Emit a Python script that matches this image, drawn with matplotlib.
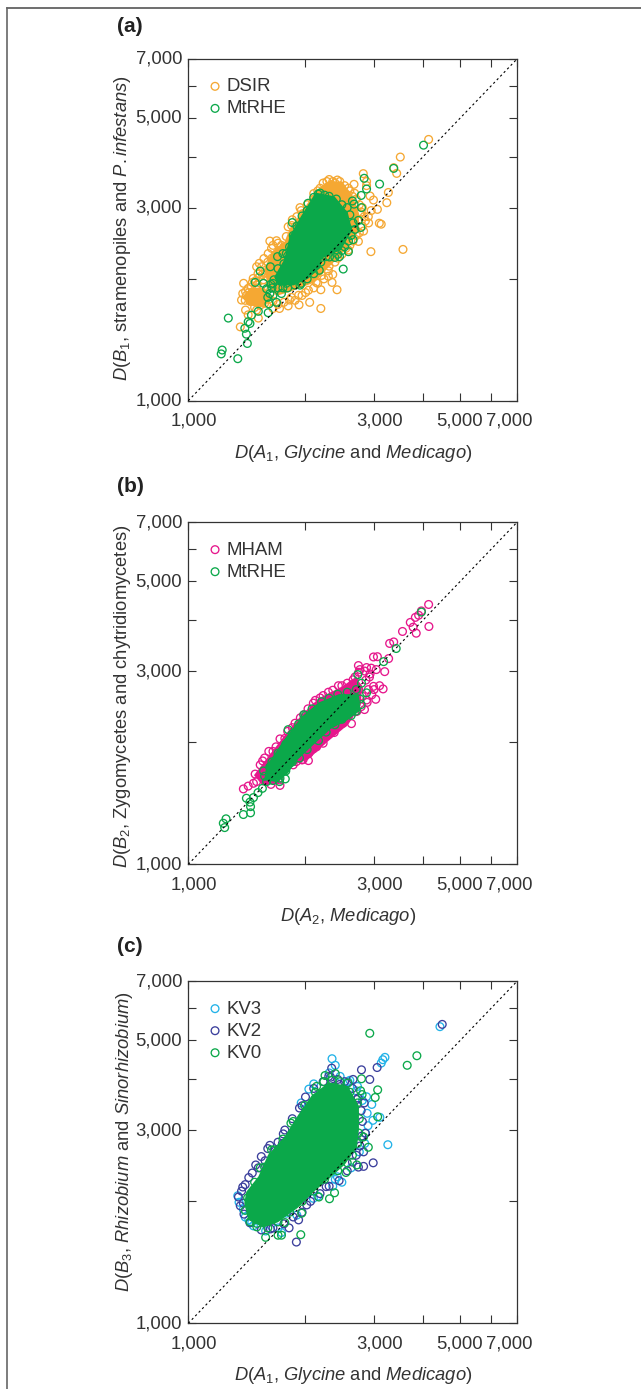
import matplotlib
matplotlib.use("Agg")
import matplotlib.pyplot as plt
from matplotlib.lines import Line2D
from matplotlib.transforms import ScaledTranslation

plt.rcParams["font.family"] = "Liberation Sans"
plt.rcParams["mathtext.fontset"] = "custom"
plt.rcParams["mathtext.rm"] = "Liberation Sans"
plt.rcParams["mathtext.it"] = "Liberation Sans:italic"

ticks = [1000, 2000, 3000, 4000, 5000, 6000, 7000]
tick_labels = ["1,000", "", "3,000", "", "5,000", "", "7,000"]

ORANGE = "#F5A833"
GREEN = "#0BA84A"
PINK = "#E6178C"
CYAN = "#22B2E8"
NAVY = "#3B3F9C"

# panel a, single readable circles
dsir_x = [4143, 3504, 3370, 3430, 3265, 3235, 3060, 3095, 3130, 3560, 2945, 2815, 2870, 2930, 2735,
          1370, 1380, 1387, 1403, 1425, 1453, 1468, 1498, 1522, 1564, 1543, 1604, 1620, 1636, 1685,
          1735, 1785, 1805, 1843, 1936, 1968, 2095, 2180, 2270, 2330, 2415, 2478, 2578, 2665, 2675,
          2870, 2990, 2780, 2905, 2820, 2578, 2095, 2290, 2340, 2410, 2190, 2035, 1920, 1820, 1925,
          2050, 2190, 1715, 1805, 1650, 1513, 1425, 1403, 1360, 1498, 1440, 1485, 1530, 1575, 1498,
          1560, 1620, 1670,
          1600, 1640, 1680, 1720, 1650, 1700, 1760, 1580, 1550, 1520, 1490, 1510, 1560, 1600, 1640,
          1500, 1460, 1430, 1410, 1400, 1440, 1480, 1530, 1570, 1610, 1650, 1700, 1760, 1840, 1880,
          1960, 2000, 2100, 2150, 2230, 2290, 2200, 2130, 2350, 1850, 1900, 1950, 2020, 2100, 2150,
          2220, 2300, 2350, 2380, 2450, 2520, 2600, 2640, 2700, 2750, 2800, 2760, 2830, 2850, 2800,
          2750, 2700, 2650, 2600, 2540, 2480, 2420, 2380, 2300, 2900, 2950]
dsir_y = [4422, 4000, 3765, 3645, 3270, 3085, 2970, 2745, 2730, 2365, 2335, 3640, 3480, 3205, 2475,
          1773, 1840, 1950, 1860, 1895, 1912, 2005, 2143, 2185, 2245, 2143, 2310, 2480, 2380, 2485,
          2420, 2545, 2690, 2710, 3000, 2900, 3145, 3350, 3480, 3415, 3510, 3350, 3350, 3425, 3255,
          3400, 3132, 2925, 2750, 2625, 2357, 2060, 2095, 1960, 1880, 1880, 1875, 1822, 1773, 1725,
          1750, 1690, 1690, 1715, 1690, 1600, 1630, 1675, 1522, 1675, 1800, 1753, 1840, 1785, 1880,
          1905, 1840, 1912,
          2200, 2250, 2300, 2350, 2420, 2450, 2400, 2100, 2050, 2020, 1980, 2060, 1990, 2020, 2080,
          1930, 1960, 1850, 1820, 1770, 1760, 1700, 1720, 1740, 1780, 1760, 1730, 1750, 1800, 1770,
          1820, 1850, 1900, 1950, 2000, 2030, 2040, 1960, 2050, 2800, 2850, 2950, 3050, 3250, 3300,
          3450, 3520, 3480, 3450, 3480, 3400, 3300, 3200, 3150, 3050, 3000, 2900, 2850, 2780, 2700,
          2600, 2560, 2480, 2420, 2380, 2300, 2250, 2200, 2150, 2850, 2950]
mtrhe_a_x = [4020, 3370, 3100, 2870, 2830, 2780, 2785, 2640, 2665, 2775, 2735, 2650, 2500, 2578, 2445,
             2305, 1850, 2030, 2155, 1695, 1625, 1530, 1485, 1560, 1630, 1620, 1589, 1650, 1612, 1685,
             1604, 1513, 1453, 1267, 1425, 1440, 1397, 1410, 1418, 1340, 1222, 1215, 1936, 1785, 1735,
             1650, 1765, 1785, 1750,
             1700, 1760, 1800, 1820, 1860, 1900, 1960, 2020, 2100, 2180, 2240, 2300, 2400, 2480, 2560,
             2600, 2650, 2680, 2620, 2580, 2520, 2480, 2420, 2380, 2260, 2200, 2190, 2170, 2100, 2020,
             1950, 1880, 1800, 1750, 1700, 1660, 1640, 1600]
mtrhe_a_y = [4280, 3750, 3430, 3335, 3545, 3215, 3000, 3115, 3060, 2680, 2790, 2500, 2115, 2335, 2270,
             2265, 2755, 3075, 3240, 2270, 2143, 2090, 1960, 1950, 1940, 1840, 1890, 1820, 1735, 1750,
             1650, 1663, 1627, 1600, 1567, 1552, 1510, 1460, 1385, 1270, 1334, 1305, 1930, 1950, 1840,
             1950, 2105, 2310, 2310,
             2120, 2180, 2280, 2400, 2560, 2700, 2860, 2950, 3180, 3260, 3220, 3200, 3150, 3050, 3000,
             2880, 2750, 2650, 2560, 2480, 2400, 2350, 2300, 2260, 2270, 2260, 2200, 2100, 2060, 2000,
             1950, 1930, 1900, 1900, 1900, 1990, 1900, 1800]
# saturated regions where the circles merge, outlines only
dsir_core_x = [1620, 1589, 1650, 1785, 1843, 1973, 2136, 2270, 2460, 2602, 2710, 2710, 2445, 2260, 2095, 1820, 1690]
dsir_core_y = [1950, 2103, 2310, 2450, 2650, 2900, 3252, 3425, 3444, 3220, 2900, 2640, 2310, 2143, 1980, 1880, 1840]
dsir_blob_x = [1397, 1453, 1560, 1604, 1560, 1440]
dsir_blob_y = [1800, 1880, 1880, 1800, 1720, 1740]
mtrhe_a_core_x = [1685, 1785, 1843, 1973, 2136, 2358, 2540, 2602, 2445, 2180, 2160, 2015, 1860, 1715]
mtrhe_a_core_y = [2020, 2225, 2545, 2849, 3225, 3165, 2900, 2640, 2380, 2265, 2143, 2020, 1950, 1950]

# panel b
mham_x = [4143, 3970, 3905, 3830, 3717, 3780, 3850, 4150, 3550, 3290, 3370, 3270, 2990, 3060, 2735,
          3195, 3165, 3100, 3030, 3040, 2930, 2835, 2625, 2370, 2220, 2035, 1895, 1720, 1385, 1425,
          1470, 1552, 1485, 1650, 1770, 1850, 1980, 2095, 2180, 2290, 2480, 2650, 2760, 2870, 2990,
          2870, 2710, 2500, 2330, 2136, 1973, 1820, 1715, 1630, 1498, 1589, 1715,
          1530, 1570, 1610, 1680, 1720, 1800, 1880, 1940, 2030, 2120, 2220, 2350, 2430, 2560, 2680,
          2740, 2840, 2950, 1600, 1660, 1740, 1800, 1860, 1960, 2040, 2100, 2200, 2290, 2400, 2480,
          2580, 2680, 2780, 2880, 2960, 3000, 2900, 2800, 2860, 2920, 2740]
mham_y = [4380, 4222, 4120, 4070, 3955, 3850, 3720, 3865, 3757, 3510, 3540, 3220, 3250, 3255, 3095,
          2990, 2710, 2760, 2555, 3025, 2950, 2410, 2225, 2115, 1990, 1803, 1793, 1566, 1535, 1560,
          1585, 1800, 1670, 1900, 2045, 2175, 2340, 2500, 2575, 2660, 2760, 2855, 3025, 3060, 2750,
          2545, 2385, 2230, 2150, 1950, 1815, 1775, 1615, 1575, 1600, 1710, 1850,
          1760, 1830, 1900, 1950, 2040, 2130, 2230, 2300, 2420, 2540, 2610, 2690, 2760, 2800, 2900,
          2980, 3000, 3050, 1620, 1680, 1720, 1760, 1760, 1810, 1880, 1930, 2020, 2110, 2190, 2240,
          2330, 2380, 2450, 2510, 2620, 2700, 2700, 2600, 2850, 2900, 2700]
mtrhe_b_x = [3970, 3420, 3175, 2725, 2785, 2870, 1980, 1805, 1775, 1550, 1510, 1470, 1410, 1440, 1445,
             1445, 1385, 1250, 1230, 1240, 1650, 1715, 1620, 1589,
             1640, 1700, 1780, 1850, 1920, 2000, 2080, 2200, 2300, 2420, 2560, 2700, 2760, 2780, 2700,
             2620, 2480, 2380, 2260, 2160, 2020, 1930, 1850, 1780, 1720, 1650, 1570, 1560]
mtrhe_b_y = [4195, 3410, 3165, 2940, 2800, 2650, 2340, 2150, 1625, 1540, 1503, 1461, 1456, 1424, 1388,
             1340, 1327, 1295, 1263, 1232, 1680, 1600, 1740, 1600,
             1790, 1880, 1980, 2100, 2220, 2330, 2420, 2520, 2570, 2630, 2660, 2700, 2560, 2480, 2390,
             2330, 2280, 2210, 2120, 2020, 1920, 1830, 1790, 1700, 1630, 1610, 1650, 1700]
mham_core_x = [1498, 1620, 1785, 1973, 2180, 2500, 2680, 2760, 2740, 2550, 2260, 2015, 1785, 1690, 1560]
mham_core_y = [1660, 1830, 2065, 2320, 2545, 2720, 2850, 2750, 2480, 2230, 2025, 1830, 1760, 1600, 1585]
mtrhe_b_core_x = [1604, 1785, 1973, 2180, 2445, 2710, 2735, 2550, 2305, 2050, 1895, 1785, 1690, 1589]
mtrhe_b_core_y = [1740, 2025, 2295, 2485, 2600, 2600, 2410, 2295, 2180, 1965, 1830, 1690, 1615, 1630]

# panel c
kv3_x = [4430, 3200, 3160, 3130, 2340, 2385, 2040, 2960, 2980, 3105, 3255, 2895, 2415, 2385, 1340,
         1385, 1430, 1455, 2095, 1785, 1735, 2840, 2455, 2570, 2720, 2870,
         1350, 1400, 1470, 1580, 1700, 1900, 2150, 2350, 2480, 2620, 2750, 2850, 2880, 2800, 2700,
         2600, 2300, 2100, 1950]
kv3_y = [5400, 4535, 4475, 4390, 4500, 4335, 3786, 3470, 3170, 3225, 2760, 3075, 2300, 2265, 2065,
         1910, 1800, 1773, 2035, 1870, 1675, 2780, 4070, 3950, 3845, 3625,
         1990, 1830, 1740, 1690, 1720, 1850, 2060, 2180, 2230, 2420, 2650, 2950, 3300, 3550, 3750,
         3980, 4150, 3900, 3500]
kv2_x = [4490, 3055, 2785, 2925, 2650, 2335, 2295, 1960, 1754, 1620, 1575, 1513, 1430, 1380, 1345,
         1385, 1468, 1625, 1815, 1895, 1920, 2015, 2260, 2985, 2820, 2735, 2820, 2850, 2830, 2710,
         2358, 2445, 1745,
         1360, 1370, 1400, 1460, 1490, 1540, 1600, 1700, 1770, 1850, 1930, 2000, 2100, 2220, 2320,
         2420, 2520, 2640, 2730, 2780, 2800, 2790, 2760, 2700, 2640, 2560, 2440, 2300, 2180, 2060,
         1960, 1860, 1760, 1650, 1540, 1440, 1390]
kv2_y = [5470, 4280, 4225, 4000, 4000, 4265, 4070, 3444, 2935, 2750, 2520, 2420, 2290, 2170, 2050,
         1980, 1830, 1710, 1720, 1587, 1800, 1960, 2175, 2490, 2440, 2430, 2650, 2945, 3500, 3570,
         3845, 3885, 2780,
         1950, 2120, 2200, 2350, 2460, 2580, 2700, 2800, 3000, 3200, 3400, 3620, 3800, 3950, 4050,
         4000, 3950, 3800, 3600, 3350, 3150, 2900, 2740, 2600, 2500, 2380, 2250, 2180, 2090, 2000,
         1880, 1830, 1760, 1720, 1700, 1770, 1860]
kv0_x = [2925, 3865, 3650, 3065, 3020, 3065, 2785, 2770, 2795, 2900, 2820, 2710, 2540, 2375, 2305,
         2165, 1945, 1580, 1700, 1735, 1955, 1770, 1530, 1636, 1835, 2136, 2245, 2385, 2570, 1498,
         1400, 1420, 1480, 1570, 1660, 1750, 1860, 1990, 2120, 2230, 2340, 2450, 2600, 2720, 2750,
         2740, 2720, 2640, 2560, 2420, 2240, 2100, 1960, 1820, 1700, 1600, 1500, 1440]
kv0_y = [5200, 4577, 4335, 3770, 3610, 3235, 4015, 3750, 3670, 2720, 2885, 2460, 2357, 2100, 2030,
         2050, 1655, 1630, 1650, 1650, 1870, 1773, 2420, 2680, 3120, 3845, 4090, 4135, 3920, 1765,
         1900, 2040, 2230, 2430, 2680, 2850, 3150, 3450, 3720, 3950, 3980, 3950, 3720, 3500, 3200,
         2950, 2780, 2600, 2490, 2380, 2270, 2120, 2000, 1880, 1780, 1720, 1730, 1780]
kv0_core_x = [1410, 1425, 1530, 1620, 1785, 1936, 2095, 2305, 2550, 2710, 2710, 2680, 2500, 2305, 2095, 1895, 1690, 1560, 1440]
kv0_core_y = [1980, 2100, 2290, 2590, 2870, 3250, 3625, 3885, 3810, 3430, 3005, 2730, 2485, 2315, 2140, 1945, 1795, 1745, 1815]

W, H = 641, 1389
fig = plt.figure(figsize=(W / 100, H / 100), dpi=100)
# px offsets of the x tick labels
label_shift = {0: 6, 2: 6, 4: -1, 6: -8}


def panel(top, bottom, letter_y, letter, xlabel, ylabel, label_y, ypad=2, label_x=0.5):
    ax = fig.add_axes([188.3 / W, 1 - bottom / H, 329 / W, (bottom - top) / H])
    ax.set_xscale("log")
    ax.set_yscale("log")
    ax.set_xlim(1000, 7000)
    ax.set_ylim(1000, 7000)
    ax.set_xticks(ticks, tick_labels)
    ax.set_yticks(ticks, tick_labels)
    ax.minorticks_off()
    ax.tick_params(direction="in", top=True, right=True, length=6, width=0.8,
                   labelsize=13.3, labelcolor="#333333", color="#333333")
    ax.tick_params(axis="x", pad=8.5)
    ax.tick_params(axis="y", pad=4.5)
    for i, lab in enumerate(ax.get_xticklabels()):
        if i in label_shift:
            lab.set_transform(lab.get_transform() + ScaledTranslation(label_shift[i] / 100, 0, fig.dpi_scale_trans))
    for lab in ax.get_yticklabels():
        lab.set_transform(lab.get_transform() + ScaledTranslation(0, 1.5 / 100, fig.dpi_scale_trans))
    for s in ax.spines.values():
        s.set_linewidth(0.9)
        s.set_color("#333333")
    ax.plot([1000, 7000], [1000, 7000], color="k", lw=0.8, ls=(0, (2, 2.5)), zorder=5)
    ax.set_xlabel(xlabel, fontsize=13.2, color="#333333", labelpad=9.5, x=label_x)
    ax.set_ylabel(ylabel, fontsize=13.2, color="#333333", labelpad=ypad, y=label_y)
    fig.text(117 / W, 1 - letter_y / H, letter, fontsize=15, fontweight="bold",
             color="#222222", va="center")
    return ax


def circles(ax, x, y, color, label=None):
    ax.scatter(x, y, s=31, facecolors="none", edgecolors=color, linewidths=0.95, label=label, zorder=3)


def core(ax, x, y, color):
    ax.fill(x, y, color=color, lw=3, zorder=3)


def legend(ax):
    ax.legend(loc="upper left", bbox_to_anchor=(0.053, 0.943), frameon=False, fontsize=13.4,
              labelspacing=0.27, handlelength=1, handletextpad=0.13, borderpad=0, borderaxespad=0,
              labelcolor="#333333")


ax = panel(58.7, 400.7, 27, "(a)", r"$D(A_1$, $Glycine$ and $Medicago$)",
           r"$D(B_1$, stramenopiles and $P. infestans$)", 0.505)
core(ax, dsir_core_x, dsir_core_y, ORANGE)
core(ax, dsir_blob_x, dsir_blob_y, ORANGE)
circles(ax, dsir_x, dsir_y, ORANGE, "DSIR")
core(ax, mtrhe_a_core_x, mtrhe_a_core_y, GREEN)
circles(ax, mtrhe_a_x, mtrhe_a_y, GREEN, "MtRHE")
legend(ax)

ax = panel(522, 864.3, 487, "(b)", r"$D(A_2$, $Medicago$)",
           r"$D(B_2$, Zygomycetes and chytridiomycetes)", 0.49, label_x=0.485)
core(ax, mham_core_x, mham_core_y, PINK)
circles(ax, mham_x, mham_y, PINK, "MHAM")
core(ax, mtrhe_b_core_x, mtrhe_b_core_y, GREEN)
circles(ax, mtrhe_b_x, mtrhe_b_y, GREEN, "MtRHE")
legend(ax)

ax = panel(981, 1323.3, 946, "(c)", r"$D(A_1$, $Glycine$ and $Medicago$)",
           r"$D(B_3$, $Rhizobium$ and $Sinorhizobium$)", 0.53, ypad=0)
circles(ax, kv3_x, kv3_y, CYAN, "KV3")
circles(ax, kv2_x, kv2_y, NAVY, "KV2")
core(ax, kv0_core_x, kv0_core_y, GREEN)
circles(ax, kv0_x, kv0_y, GREEN, "KV0")
legend(ax)

# page frame, top and left only
fig.add_artist(Line2D([6.5 / W, 1], [1 - 7.5 / H, 1 - 7.5 / H], color="#555555", lw=1.2))
fig.add_artist(Line2D([6.5 / W, 6.5 / W], [0, 1 - 7.5 / H], color="#666666", lw=1.2))

fig.savefig("out.png", dpi=100)
